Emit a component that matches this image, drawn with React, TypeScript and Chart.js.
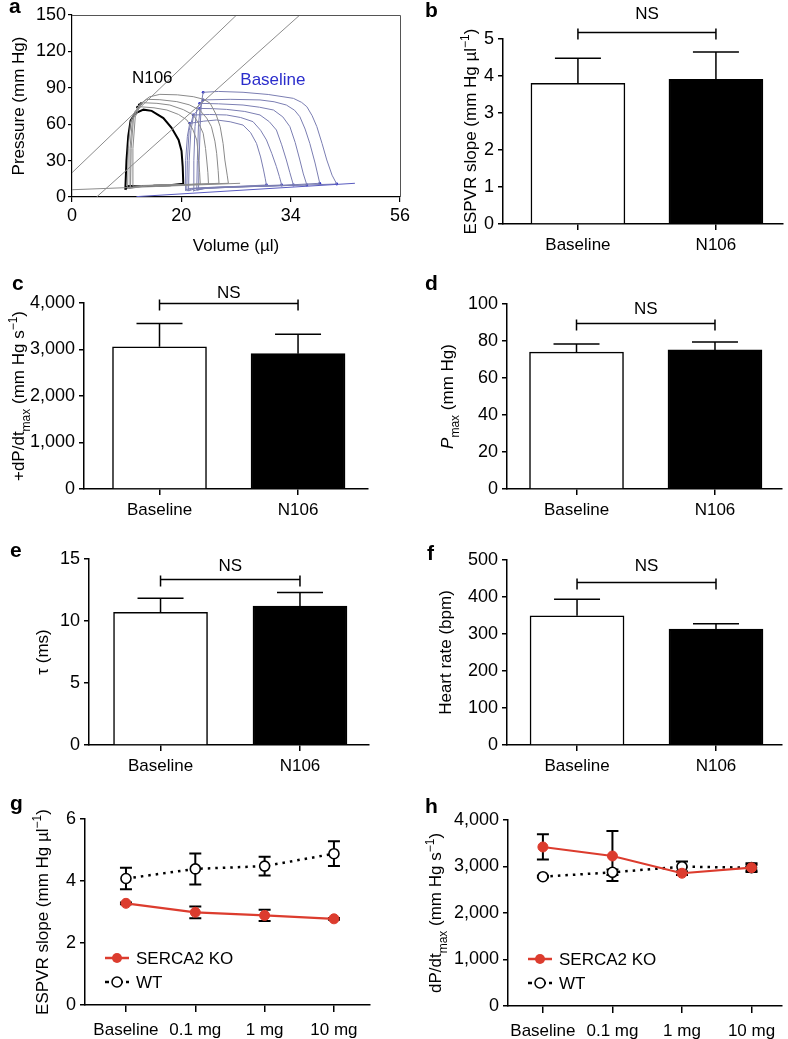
import React, { useEffect, useRef } from 'react';
import { Chart, registerables } from 'chart.js';
Chart.register(...registerables);

const FONT = '"Liberation Sans", Arial, Helvetica, sans-serif';
const RED = '#dc3c2e';
const BLUE = '#2b2dcc';
const LOOP_BLUE = '#7b7eb2';
const LOOP_GRAY = '#8a8a8a';
const LINE_GRAY = '#8c8c8c';

// ---------------- Panel a : pressure-volume loops ----------------
const aTickValues = [0, 18.67, 37.33, 56];
const aTickLabels = ['0', '20', '34', '56'];
const aLabels = [
  { text: 'N106', vol: 13.7, p: 98, color: '#000' },
  { text: 'Baseline', vol: 34.3, p: 96.4, color: BLUE },
];
const espvrN106 = [[0, 20], [28.1, 150]];
const espvrBaseline = [[4.2, 0], [38.9, 150]];
const edpvrN106 = [[0, 6], [28.7, 11.3]];
const edpvrBaseline = [[11, 0.3], [48.3, 11.3]];

const n106Main = [[9.1, 6], [9.3, 30], [9.6, 50], [10.0, 63], [10.8, 69], [12.2, 72], [13.6, 71], [15.6, 65], [17.0, 57], [18.2, 47], [18.7, 38], [18.9, 25], [19.0, 11], [16.7, 9.6], [13.9, 9.2], [11.0, 9.1], [9.6, 9.0], [9.1, 6]];
const n106Loop1 = [[10.4, 9], [10.4, 40], [10.8, 66], [11.8, 77], [13.2, 82.5], [15.0, 84.6], [18.0, 84.2], [20.7, 82.7], [22.5, 80.5], [23.6, 77.2], [24.6, 68], [25.3, 58], [25.8, 44], [26.1, 30.5], [26.5, 18], [26.7, 11.3], [22, 10.5], [16, 10], [12, 9.5], [10.4, 9]];
const n106Loop2 = [[10.0, 8], [10.1, 40], [10.5, 65], [11.5, 76], [12.7, 80.5], [15.0, 80.2], [17.9, 78.6], [20.0, 76], [21.8, 71.7], [23.0, 65], [23.8, 58], [24.4, 46], [24.7, 36], [24.95, 22], [25.1, 11.3], [20, 10.2], [14, 9.6], [10.0, 8]];
const n106Loop3 = [[9.8, 7], [9.9, 40], [10.3, 63], [11.2, 74], [12.2, 77.7], [14.5, 77.2], [16.7, 75.8], [19.0, 72], [20.7, 67.6], [21.7, 60], [22.4, 52.5], [22.8, 40], [23.0, 30.5], [23.2, 20], [23.3, 10.7], [18, 10], [13, 9.4], [9.8, 7]];
const n106Loop4 = [[9.5, 7], [9.6, 40], [10.0, 62], [10.8, 71], [11.6, 74.4], [14.0, 73.5], [16.2, 71.7], [18.2, 68], [19.6, 63.5], [20.6, 56], [21.3, 47], [21.5, 38], [21.6, 30.5], [21.8, 20], [21.9, 10.7], [17, 10], [12.5, 9.4], [9.5, 7]];

const baseLoop1 = [[21.6, 6], [21.7, 30], [21.9, 60], [22.1, 78], [22.4, 86.3], [25, 87], [29.2, 86.3], [33.5, 84.5], [37.8, 81.3], [39.2, 78], [40.1, 74.4], [41.0, 67], [41.8, 58], [42.7, 44], [43.5, 30.5], [44.4, 18], [45.2, 10.7], [35, 9.2], [28, 8.2], [23, 7.2], [21.6, 6]];
const baseLoop2 = [[21.3, 5.5], [21.4, 30], [21.6, 60], [21.9, 74], [22.4, 80], [27, 80.5], [32.1, 80], [34.5, 78.5], [36.6, 75.8], [38.0, 71.5], [38.9, 66.2], [39.8, 56], [40.6, 44.2], [41.5, 28], [42.3, 11.3], [34, 9.1], [27, 8], [22.5, 7], [21.3, 5.5]];
const baseLoop3 = [[20.7, 5], [20.8, 30], [21.0, 58], [21.3, 72], [21.8, 77.2], [25, 76.8], [29.2, 75.8], [32, 74], [34.4, 71.7], [36, 66], [37.2, 58], [38.1, 45], [38.9, 30.5], [39.5, 19], [40.1, 9.9], [32, 8.9], [26, 8], [22, 7], [20.7, 5]];
const baseLoop4 = [[19.9, 5], [20.0, 30], [20.3, 55], [20.8, 68], [21.8, 73], [24, 72.8], [26.4, 72.2], [29.5, 70.5], [32.1, 67.6], [33.7, 62], [34.9, 55.2], [35.8, 43], [36.6, 30.5], [37.2, 20], [37.8, 9.9], [30, 8.7], [25, 8], [21, 6.8], [19.9, 5]];
const baseLoop5 = [[19.6, 5], [19.7, 30], [20.0, 55], [20.7, 67.6], [23.5, 68], [26.4, 67.6], [28.8, 65.5], [30.9, 62.1], [32.2, 55], [33.2, 47], [34.1, 36], [34.9, 25], [35.4, 17], [35.8, 9.9], [28, 8.5], [23, 7.8], [20.5, 6.8], [19.6, 5]];
const baseLoop6 = [[19.3, 5.5], [19.4, 30], [19.7, 50], [20.1, 60.7], [22.5, 62.5], [24.7, 63.5], [27, 62], [29.2, 59.3], [30.5, 53], [31.5, 44.2], [32.2, 33], [32.7, 22.3], [33.0, 15], [33.2, 9.9], [27, 8.5], [22, 7.6], [20, 7], [19.3, 5.5]];
const baseEsPoints = [[20.1, 60.7], [20.7, 67.6], [21.8, 73], [21.8, 77.2], [22.4, 80], [22.4, 86.3]];
const baseEdPoints = [[33.2, 9.9], [35.8, 9.9], [37.8, 9.9], [40.1, 9.9], [42.3, 11.3], [45.2, 10.7]];
const n106EsPoints = [[10.8, 69], [11.2, 74], [11.5, 76], [11.8, 77]];

// ---------------- Panels b-f : bar charts ----------------
const barCategories = ['Baseline', 'N106'];
const espvrSlope = [3.80, 3.91];
const espvrSlopeSem = [0.68, 0.74];
const dpdtMax = [3060, 2910];
const dpdtMaxSem = [500, 420];
const pMax = [74.0, 75.2];
const pMaxSem = [4.4, 4.3];
const tau = [10.7, 11.2];
const tauSem = [1.13, 1.1];
const heartRate = [349, 313];
const heartRateSem = [45, 15];

// ---------------- Panels g-h : dose response ----------------
const doseLabels = ['Baseline', '0.1 mg', '1 mg', '10 mg'];
const seriesNames = ['SERCA2 KO', 'WT'];
const espvrKO = [3.28, 2.99, 2.89, 2.78];
const espvrKOSem = [0.03, 0.19, 0.18, 0.03];
const espvrWT = [4.08, 4.39, 4.48, 4.88];
const espvrWTSem = [0.35, 0.5, 0.3, 0.4];
const dpdtKO = [3420, 3226, 2855, 2975];
const dpdtKOSem = [272, 537, 40, 60];
const dpdtWT = [2781, 2875, 2996, 2975];
const dpdtWTSem = [20, 60, 110, 95];

type Seg = { t: string; s?: 'sub' | 'sup'; i?: boolean };
type Geo = { x: number; y: number; w: number; h: number; L: number; T: number; R: number; B: number };

function richText(ctx: CanvasRenderingContext2D, segs: Seg[], cx: number, cy: number, vertical: boolean, size = 17, color = '#000') {
  ctx.save();
  ctx.translate(cx, cy);
  if (vertical) ctx.rotate(-Math.PI / 2);
  const small = Math.round(size * 0.72);
  const fontFor = (s: Seg) => `${s.i ? 'italic ' : ''}${s.s ? small : size}px ${FONT}`;
  let total = 0;
  for (const s of segs) { ctx.font = fontFor(s); total += ctx.measureText(s.t).width; }
  let x = -total / 2;
  ctx.textAlign = 'left';
  ctx.textBaseline = 'alphabetic';
  ctx.fillStyle = color;
  const base = size * 0.36;
  for (const s of segs) {
    ctx.font = fontFor(s);
    const dy = s.s === 'sub' ? size * 0.32 : s.s === 'sup' ? -size * 0.42 : 0;
    ctx.fillText(s.t, x, base + dy);
    x += ctx.measureText(s.t).width;
  }
  ctx.restore();
}

function frame(g: Geo) {
  return {
    padding: { left: 0, top: g.T - g.y, right: g.x + g.w - g.R, bottom: 0 },
    yWidth: g.L - g.x,
    xHeight: g.y + g.h - g.B,
  };
}

const axisStyle = (tickLen: number, width = 1.5) => ({
  offset: false,
  grid: { display: true, drawOnChartArea: false, drawTicks: true, tickLength: tickLen, color: '#000', lineWidth: width, offset: false },
  border: { display: true, color: '#000', width },
});

const catFont = { size: 17, family: FONT };
const numFont = { size: 18, family: FONT };

type Decor = {
  geo: Geo;
  letter: string;
  letterPos: [number, number];
  yTitle: Seg[];
  yTitleX: number;
  xTitle?: Seg[];
  xTitleY?: number;
  box?: boolean;
  errors?: { vals: number[]; errs: number[]; color: string; cap: number; width: number; upOnly: boolean }[];
  errorsBefore?: boolean;
  bracket?: { value: number; gap: number };
  legend?: boolean;
  texts?: { text: string; vol: number; p: number; color: string }[];
};

function decorPlugin(d: Decor) {
  const drawErrors = (chart: any) => {
    if (!d.errors) return;
    const ctx = chart.ctx as CanvasRenderingContext2D;
    const xs = chart.scales.x, ys = chart.scales.y;
    ctx.save();
    for (const e of d.errors) {
      ctx.strokeStyle = e.color;
      ctx.lineWidth = e.width;
      e.vals.forEach((v, i) => {
        const px = xs.getPixelForValue(i);
        const top = ys.getPixelForValue(v + e.errs[i]);
        const bot = e.upOnly ? ys.getPixelForValue(v) : ys.getPixelForValue(v - e.errs[i]);
        ctx.beginPath();
        ctx.moveTo(px, bot); ctx.lineTo(px, top);
        ctx.moveTo(px - e.cap, top); ctx.lineTo(px + e.cap, top);
        if (!e.upOnly) { ctx.moveTo(px - e.cap, bot); ctx.lineTo(px + e.cap, bot); }
        ctx.stroke();
      });
    }
    ctx.restore();
  };
  return {
    id: 'decor',
    beforeDatasetsDraw(chart: any) { if (d.errorsBefore) drawErrors(chart); },
    afterDatasetsDraw(chart: any) {
      if (!d.errorsBefore) drawErrors(chart);
      const ctx = chart.ctx as CanvasRenderingContext2D;
      const a = chart.chartArea;
      if (d.box) {
        ctx.save();
        ctx.strokeStyle = '#555';
        ctx.lineWidth = 1;
        ctx.beginPath();
        ctx.moveTo(a.left, a.top + 0.5); ctx.lineTo(a.right + 0.5, a.top + 0.5); ctx.lineTo(a.right + 0.5, a.bottom);
        ctx.stroke();
        ctx.restore();
      }
    },
    afterDraw(chart: any) {
      const ctx = chart.ctx as CanvasRenderingContext2D;
      const g = d.geo;
      const a = chart.chartArea;
      const xs = chart.scales.x, ys = chart.scales.y;
      ctx.save();
      ctx.font = `bold 21px ${FONT}`;
      ctx.fillStyle = '#000';
      ctx.textAlign = 'left';
      ctx.textBaseline = 'alphabetic';
      ctx.fillText(d.letter, d.letterPos[0] - g.x, d.letterPos[1] - g.y);
      richText(ctx, d.yTitle, d.yTitleX - g.x, (a.top + a.bottom) / 2, true);
      if (d.xTitle && d.xTitleY !== undefined) richText(ctx, d.xTitle, (a.left + a.right) / 2, d.xTitleY - g.y, false);
      if (d.texts) {
        for (const t of d.texts) {
          ctx.font = `17px ${FONT}`;
          ctx.fillStyle = t.color;
          ctx.textAlign = 'center';
          ctx.textBaseline = 'middle';
          ctx.fillText(t.text, xs.getPixelForValue(t.vol), ys.getPixelForValue(t.p));
        }
      }
      if (d.bracket) {
        const y = Math.round(ys.getPixelForValue(d.bracket.value)) + 0.5;
        const x0 = xs.getPixelForValue(0), x1 = xs.getPixelForValue(1);
        ctx.strokeStyle = '#000';
        ctx.lineWidth = 1.5;
        ctx.beginPath();
        ctx.moveTo(x0, y); ctx.lineTo(x1, y);
        ctx.moveTo(x0, y - 4); ctx.lineTo(x0, y + 7);
        ctx.moveTo(x1, y - 4); ctx.lineTo(x1, y + 7);
        ctx.stroke();
        ctx.font = `17px ${FONT}`;
        ctx.fillStyle = '#000';
        ctx.textAlign = 'center';
        ctx.textBaseline = 'middle';
        ctx.fillText('NS', (x0 + x1) / 2, y - d.bracket.gap);
      }
      if (d.legend) {
        const lx = a.left + 20;
        const ly = a.bottom - 47;
        ctx.strokeStyle = RED; ctx.lineWidth = 2.5;
        ctx.beginPath(); ctx.moveTo(lx, ly); ctx.lineTo(lx + 24, ly); ctx.stroke();
        ctx.fillStyle = RED;
        ctx.beginPath(); ctx.arc(lx + 12, ly, 5, 0, Math.PI * 2); ctx.fill();
        const ly2 = ly + 24;
        ctx.strokeStyle = '#000'; ctx.lineWidth = 2.5;
        ctx.setLineDash([4, 3]);
        ctx.beginPath(); ctx.moveTo(lx, ly2); ctx.lineTo(lx + 24, ly2); ctx.stroke();
        ctx.setLineDash([]);
        ctx.fillStyle = '#fff'; ctx.lineWidth = 1.5;
        ctx.beginPath(); ctx.arc(lx + 12, ly2, 5, 0, Math.PI * 2); ctx.fill(); ctx.stroke();
        ctx.font = `17px ${FONT}`;
        ctx.fillStyle = '#000';
        ctx.textAlign = 'left';
        ctx.textBaseline = 'middle';
        ctx.fillText(seriesNames[0], lx + 31, ly + 1);
        ctx.fillText(seriesNames[1], lx + 31, ly2 + 1);
      }
      ctx.restore();
    },
  };
}

const baseOptions = (f: ReturnType<typeof frame>) => ({
  responsive: false,
  animation: false,
  events: [],
  layout: { padding: f.padding },
  plugins: { legend: { display: false }, tooltip: { enabled: false } },
});

const toXY = (pts: number[][]) => pts.map(([x, y]) => ({ x, y }));

function pvConfig(g: Geo): any {
  const f = frame(g);
  const line = (pts: number[][], color: string, width = 1) => ({
    data: toXY(pts), showLine: true, borderColor: color, borderWidth: width, pointRadius: 0, tension: 0, fill: false,
  });
  const dots = (pts: number[][], color: string) => ({
    data: toXY(pts), showLine: false, pointRadius: 1.4, pointBackgroundColor: color, pointBorderWidth: 0,
  });
  return {
    type: 'scatter',
    data: {
      datasets: [
        line(espvrN106, LINE_GRAY),
        line(espvrBaseline, LINE_GRAY),
        line(edpvrN106, LINE_GRAY),
        line(edpvrBaseline, '#5a5cc0'),
        line(n106Loop1, LOOP_GRAY),
        line(n106Loop2, LOOP_GRAY),
        line(n106Loop3, LOOP_GRAY),
        line(n106Loop4, LOOP_GRAY),
        line(baseLoop1, LOOP_BLUE),
        line(baseLoop2, LOOP_BLUE),
        line(baseLoop3, LOOP_BLUE),
        line(baseLoop4, LOOP_BLUE),
        line(baseLoop5, LOOP_BLUE),
        line(baseLoop6, LOOP_BLUE),
        line(n106Main, '#000', 2),
        dots(baseEsPoints, BLUE),
        dots(baseEdPoints, BLUE),
        dots(n106EsPoints, '#000'),
      ],
    },
    options: {
      ...baseOptions(f),
      scales: {
        x: {
          type: 'linear', min: 0, max: 56, ...axisStyle(5, 1.2),
          afterBuildTicks: (s: any) => { s.ticks = aTickValues.map((v) => ({ value: v })); },
          afterFit: (s: any) => { s.height = f.xHeight; },
          ticks: { padding: 3, color: '#000', font: numFont, maxRotation: 0, autoSkip: false, callback: (_v: any, i: number) => aTickLabels[i] },
        },
        y: {
          type: 'linear', min: 0, max: 150, ...axisStyle(4, 1.2),
          afterFit: (s: any) => { s.width = f.yWidth; },
          ticks: { stepSize: 30, padding: 2, color: '#000', font: numFont },
        },
      },
    },
    plugins: [decorPlugin({
      geo: g, letter: 'a', letterPos: [9, 13],
      yTitle: [{ t: 'Pressure (mm Hg)' }], yTitleX: 18,
      xTitle: [{ t: 'Volume (µl)' }], xTitleY: 245,
      box: true, texts: aLabels,
    })],
  };
}

function barConfig(g: Geo, o: { values: number[]; errs: number[]; ymax: number; ystep: number; xmin: number; xmax: number; yTitle: Seg[]; yTitleX: number; letter: string; letterPos: [number, number]; bracket: number; gap: number }): any {
  const f = frame(g);
  return {
    type: 'bar',
    data: {
      datasets: [{
        data: o.values.map((v, i) => ({ x: i, y: v })),
        backgroundColor: ['#ffffff', '#000000'],
        borderColor: '#000',
        borderWidth: 1.5,
        barThickness: 94,
      }],
    },
    options: {
      ...baseOptions(f),
      scales: {
        x: {
          type: 'linear', min: o.xmin, max: o.xmax, ...axisStyle(6),
          afterBuildTicks: (s: any) => { s.ticks = barCategories.map((_c, i) => ({ value: i })); },
          afterFit: (s: any) => { s.height = f.xHeight; },
          ticks: { padding: 5, color: '#000', font: catFont, maxRotation: 0, autoSkip: false, callback: (_v: any, i: number) => barCategories[i] },
        },
        y: {
          type: 'linear', min: 0, max: o.ymax, ...axisStyle(5),
          afterFit: (s: any) => { s.width = f.yWidth; },
          ticks: { stepSize: o.ystep, padding: 4, color: '#000', font: numFont, callback: (v: any) => Number(v).toLocaleString('en-US') },
        },
      },
    },
    plugins: [decorPlugin({
      geo: g, letter: o.letter, letterPos: o.letterPos,
      yTitle: o.yTitle, yTitleX: o.yTitleX,
      errors: [{ vals: o.values, errs: o.errs, color: '#000', cap: 23, width: 1.5, upOnly: true }],
      bracket: { value: o.bracket, gap: o.gap },
    })],
  };
}

function doseConfig(g: Geo, o: { ko: number[]; koErr: number[]; wt: number[]; wtErr: number[]; ymax: number; ystep: number; xmin: number; xmax: number; yTitle: Seg[]; yTitleX: number; letter: string; letterPos: [number, number] }): any {
  const f = frame(g);
  return {
    type: 'line',
    data: {
      datasets: [
        {
          label: seriesNames[0],
          data: o.ko.map((v, i) => ({ x: i, y: v })),
          borderColor: RED, backgroundColor: RED, borderWidth: 2.2,
          pointRadius: 5, pointBackgroundColor: RED, pointBorderColor: RED, pointBorderWidth: 1, tension: 0,
        },
        {
          label: seriesNames[1],
          data: o.wt.map((v, i) => ({ x: i, y: v })),
          borderColor: '#000', borderWidth: 2.5, borderDash: [2.5, 5],
          pointRadius: 5, pointBackgroundColor: '#fff', pointBorderColor: '#000', pointBorderWidth: 1.6, tension: 0,
        },
      ],
    },
    options: {
      ...baseOptions(f),
      scales: {
        x: {
          type: 'linear', min: o.xmin, max: o.xmax, ...axisStyle(7),
          afterBuildTicks: (s: any) => { s.ticks = doseLabels.map((_c, i) => ({ value: i })); },
          afterFit: (s: any) => { s.height = f.xHeight; },
          ticks: { padding: 8, color: '#000', font: catFont, maxRotation: 0, autoSkip: false, callback: (_v: any, i: number) => doseLabels[i] },
        },
        y: {
          type: 'linear', min: 0, max: o.ymax, ...axisStyle(5),
          afterFit: (s: any) => { s.width = f.yWidth; },
          ticks: { stepSize: o.ystep, padding: 4, color: '#000', font: numFont, callback: (v: any) => Number(v).toLocaleString('en-US') },
        },
      },
    },
    plugins: [decorPlugin({
      geo: g, letter: o.letter, letterPos: o.letterPos,
      yTitle: o.yTitle, yTitleX: o.yTitleX,
      errors: [
        { vals: o.ko, errs: o.koErr, color: '#000', cap: 6, width: 2, upOnly: false },
        { vals: o.wt, errs: o.wtErr, color: '#000', cap: 6, width: 2, upOnly: false },
      ],
      errorsBefore: true,
      legend: true,
    })],
  };
}

const espvrTitle: Seg[] = [{ t: 'ESPVR slope (mm Hg µl' }, { t: '−1', s: 'sup' }, { t: ')' }];

const geoA: Geo = { x: 0, y: 0, w: 425, h: 262, L: 72, T: 15, R: 400, B: 197 };
const geoB: Geo = { x: 395, y: 0, w: 393, h: 262, L: 503, T: 39, R: 783, B: 224 };
const geoC: Geo = { x: 0, y: 262, w: 400, h: 258, L: 84, T: 303, R: 368, B: 489 };
const geoD: Geo = { x: 395, y: 262, w: 393, h: 258, L: 507, T: 304, R: 782, B: 489 };
const geoE: Geo = { x: 0, y: 520, w: 400, h: 258, L: 89, T: 559, R: 369, B: 745 };
const geoF: Geo = { x: 395, y: 520, w: 393, h: 258, L: 507, T: 560, R: 782, B: 745 };
const geoG: Geo = { x: 0, y: 778, w: 400, h: 261, L: 85, T: 819, R: 370, B: 1005 };
const geoH: Geo = { x: 395, y: 778, w: 393, h: 261, L: 508, T: 820, R: 782, B: 1006 };

const panels: { geo: Geo; build: () => any }[] = [
  { geo: geoA, build: () => pvConfig(geoA) },
  { geo: geoB, build: () => barConfig(geoB, { values: espvrSlope, errs: espvrSlopeSem, ymax: 5, ystep: 1, xmin: -0.543, xmax: 1.486, yTitle: espvrTitle, yTitleX: 470, letter: 'b', letterPos: [425, 17], bracket: 5.19, gap: 18 }) },
  { geo: geoC, build: () => barConfig(geoC, { values: dpdtMax, errs: dpdtMaxSem, ymax: 4000, ystep: 1000, xmin: -0.545, xmax: 1.505, yTitle: [{ t: '+dP/dt' }, { t: 'max', s: 'sub' }, { t: ' (mm Hg s' }, { t: '−1', s: 'sup' }, { t: ')' }], yTitleX: 18, letter: 'c', letterPos: [12, 290], bracket: 4006, gap: 10 }) },
  { geo: geoD, build: () => barConfig(geoD, { values: pMax, errs: pMaxSem, ymax: 100, ystep: 20, xmin: -0.502, xmax: 1.484, yTitle: [{ t: 'P', i: true }, { t: 'max', s: 'sub' }, { t: ' (mm Hg)' }], yTitleX: 447, letter: 'd', letterPos: [425, 290], bracket: 89.8, gap: 14.5 }) },
  { geo: geoE, build: () => barConfig(geoE, { values: tau, errs: tauSem, ymax: 15, ystep: 5, xmin: -0.513, xmax: 1.495, yTitle: [{ t: 'τ (ms)' }], yTitleX: 42, letter: 'e', letterPos: [10, 557], bracket: 13.36, gap: 13.3 }) },
  { geo: geoF, build: () => barConfig(geoF, { values: heartRate, errs: heartRateSem, ymax: 500, ystep: 100, xmin: -0.504, xmax: 1.475, yTitle: [{ t: 'Heart rate (bpm)' }], yTitleX: 445, letter: 'f', letterPos: [427, 560], bracket: 441, gap: 15.7 }) },
  { geo: geoG, build: () => doseConfig(geoG, { ko: espvrKO, koErr: espvrKOSem, wt: espvrWT, wtErr: espvrWTSem, ymax: 6, ystep: 2, xmin: -0.591, xmax: 3.52, yTitle: espvrTitle, yTitleX: 42, letter: 'g', letterPos: [10, 810] }) },
  { geo: geoH, build: () => doseConfig(geoH, { ko: dpdtKO, koErr: dpdtKOSem, wt: dpdtWT, wtErr: dpdtWTSem, ymax: 4000, ystep: 1000, xmin: -0.502, xmax: 3.43, yTitle: [{ t: 'dP/dt' }, { t: 'max', s: 'sub' }, { t: ' (mm Hg s' }, { t: '−1', s: 'sup' }, { t: ')' }], yTitleX: 435, letter: 'h', letterPos: [425, 813] }) },
];

function Panel({ geo, build }: { geo: Geo; build: () => any }) {
  const ref = useRef<HTMLCanvasElement>(null);
  useEffect(() => {
    const chart = new Chart(ref.current as HTMLCanvasElement, build());
    return () => chart.destroy();
  }, []);
  return (
    <canvas
      ref={ref}
      width={geo.w}
      height={geo.h}
      style={{ position: 'absolute', left: geo.x, top: geo.y, width: geo.w, height: geo.h }}
    />
  );
}

export default function App() {
  Chart.defaults.font.family = FONT;
  Chart.defaults.color = '#000';
  return (
    <div style={{ position: 'absolute', left: 0, top: 0, width: 788, height: 1039, background: '#fff', overflow: 'hidden' }}>
      {panels.map((p, i) => <Panel key={i} geo={p.geo} build={p.build} />)}
    </div>
  );
}
